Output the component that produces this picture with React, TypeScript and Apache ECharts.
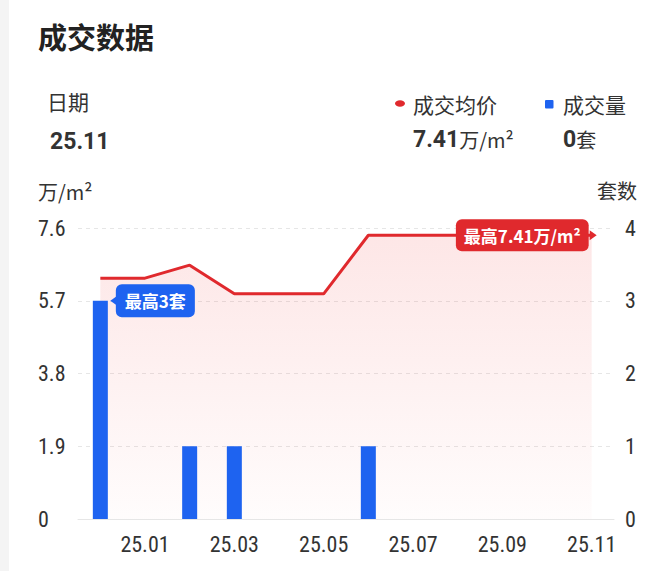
import React, { useEffect, useRef } from "react";
import * as echarts from "echarts";

const categories = ["24.12", "25.01", "25.02", "25.03", "25.04", "25.05", "25.06", "25.07", "25.08", "25.09", "25.10", "25.11"];
const priceValues = [6.29, 6.29, 6.63, 5.88, 5.88, 5.88, 7.41, 7.41, 7.41, 7.41, 7.41, 7.41];
const volumeValues = [3, 0, 1, 1, 0, 0, 1, 0, 0, 0, 0, 0];
const priceTicks = { min: 0, max: 7.6, interval: 1.9 };
const volumeTicks = { min: 0, max: 4, interval: 1 };

const title = "成交数据";
const dateLabel = "日期";
const dateValue = "25.11";
const priceName = "成交均价";
const volumeName = "成交量";
const priceCurrent = "7.41";
const volumeCurrent = "0";
const leftUnit = "万/m²";
const rightUnit = "套数";
const maxVolumeLabel = "最高3套";
const maxPriceLabel = "最高7.41万/m²";

const RED = "#e0292d";
const BLUE = "#1e63f0";
const CJK = "'Noto Sans CJK SC', 'Noto Sans', sans-serif";
const NUM = "Roboto, 'Noto Sans CJK SC', sans-serif";
const AXIS = "'Liberation Sans Narrow', 'Roboto Condensed', 'Arial Narrow', Roboto, sans-serif";

export default function App() {
  const ref = useRef<HTMLDivElement>(null);
  useEffect(() => {
    if (!ref.current) return;
    const chart = echarts.init(ref.current, null, { renderer: "svg" });
    const lastIdx = priceValues.length - 1;
    const option: any = {
      animation: false,
      backgroundColor: "#ffffff",
      grid: { left: 78, right: 55, top: 228, bottom: 52, containLabel: false },
      xAxis: {
        type: "category",
        data: categories,
        boundaryGap: true,
        axisLine: { show: true, lineStyle: { color: "#e6e6e6", width: 1 } },
        axisTick: { show: false },
        axisLabel: {
          interval: (i: number) => i % 2 === 1,
          margin: 14,
          color: "#333333",
          fontSize: 22,
          fontFamily: AXIS,
        },
      },
      yAxis: [
        {
          type: "value",
          min: priceTicks.min,
          max: priceTicks.max,
          interval: priceTicks.interval,
          position: "left",
          axisLine: { show: false },
          axisTick: { show: false },
          axisLabel: {
            align: "left",
            margin: 40,
            color: "#333333",
            fontSize: 22,
            fontFamily: AXIS,
            formatter: (v: number) => (v === 0 ? "0" : v.toFixed(1)),
          },
          splitLine: { show: true, lineStyle: { color: "#e6e6e6", type: [4, 4], width: 1 } },
        },
        {
          type: "value",
          min: volumeTicks.min,
          max: volumeTicks.max,
          interval: volumeTicks.interval,
          position: "right",
          axisLine: { show: false },
          axisTick: { show: false },
          axisLabel: { margin: 11, color: "#333333", fontSize: 22, fontFamily: AXIS },
          splitLine: { show: false },
        },
      ],
      series: [
        {
          type: "bar",
          name: volumeName,
          yAxisIndex: 1,
          barWidth: 15,
          itemStyle: { color: BLUE },
          data: volumeValues.map((v, i) =>
            i === 0
              ? {
                  value: v,
                  label: {
                    show: true,
                    position: ["100%", 0],
                    align: "left",
                    verticalAlign: "middle",
                    offset: [8, 0],
                    formatter: maxVolumeLabel,
                    color: "#ffffff",
                    fontSize: 17,
                    fontWeight: "bold",
                    fontFamily: CJK,
                    lineHeight: 17,
                    backgroundColor: BLUE,
                    borderRadius: 6,
                    padding: [8, 9],
                  },
                }
              : v
          ),
          markPoint: {
            silent: true,
            symbol: "triangle",
            symbolSize: [10, 7],
            symbolRotate: 90,
            symbolOffset: [13.5, 0],
            itemStyle: { color: BLUE },
            label: { show: false },
            data: [{ coord: [categories[0], volumeValues[0]] }],
          },
          z: 3,
        },
        {
          type: "line",
          name: priceName,
          yAxisIndex: 0,
          showSymbol: false,
          symbol: "none",
          smooth: false,
          lineStyle: { color: RED, width: 3 },
          itemStyle: { color: RED },
          areaStyle: {
            color: new echarts.graphic.LinearGradient(0, 0, 0, 1, [
              { offset: 0, color: "rgba(240,60,60,0.18)" },
              { offset: 1, color: "rgba(240,60,60,0.02)" },
            ]),
          },
          data: priceValues,
          markPoint: {
            silent: true,
            itemStyle: { color: RED },
            data: [
              {
                coord: [categories[lastIdx], priceValues[lastIdx]],
                symbol: "triangle",
                symbolSize: [10, 7],
                symbolRotate: -90,
                symbolOffset: [1.5, 0],
                label: { show: false },
              },
              {
                coord: [categories[lastIdx], priceValues[lastIdx]],
                symbol: "circle",
                symbolSize: 0,
                label: {
                  show: true,
                  position: "left",
                  distance: 3,
                  formatter: maxPriceLabel,
                  color: "#ffffff",
                  fontSize: 17,
                  fontWeight: "bold",
                  fontFamily: CJK,
                  lineHeight: 16,
                  backgroundColor: RED,
                  borderRadius: 6,
                  padding: [8, 8],
                },
              },
            ],
          },
          z: 2,
        },
      ],
      graphic: [
        { type: "rect", left: 0, top: 0, shape: { width: 9, height: 571 }, style: { fill: "#f4f4f4" }, silent: true },
        {
          type: "text",
          x: 38,
          y: 36,
          style: { text: title, fontSize: 29, fontWeight: "bold", fontFamily: CJK, fill: "#222222", textVerticalAlign: "middle" },
        },
        {
          type: "text",
          x: 47,
          y: 101,
          style: { text: dateLabel, fontSize: 21, fontFamily: CJK, fill: "#333333", textVerticalAlign: "middle" },
        },
        {
          type: "text",
          x: 50,
          y: 141,
          style: { text: dateValue, fontSize: 23, fontWeight: "bold", fontFamily: NUM, fill: "#333333", textVerticalAlign: "middle" },
        },
        { type: "ellipse", shape: { cx: 400, cy: 103.5, rx: 5, ry: 3.2 }, style: { fill: RED } },
        {
          type: "text",
          x: 413,
          y: 103.5,
          style: { text: priceName, fontSize: 21, fontFamily: CJK, fill: "#333333", textVerticalAlign: "middle" },
        },
        { type: "rect", shape: { x: 545, y: 100, width: 8.5, height: 8.5, r: 1 }, style: { fill: BLUE } },
        {
          type: "text",
          x: 563,
          y: 103.5,
          style: { text: volumeName, fontSize: 21, fontFamily: CJK, fill: "#333333", textVerticalAlign: "middle" },
        },
        {
          type: "text",
          x: 413,
          y: 139.5,
          style: {
            text: "{n|" + priceCurrent + "}{u|万/m²}",
            textVerticalAlign: "middle",
            rich: {
              n: { fontSize: 23, fontWeight: "bold", fontFamily: NUM, fill: "#333333", color: "#333333" },
              u: { fontSize: 20, fontFamily: CJK, fill: "#333333", color: "#333333" },
            },
          },
        },
        {
          type: "text",
          x: 563,
          y: 139.5,
          style: {
            text: "{n|" + volumeCurrent + "}{u|套}",
            textVerticalAlign: "middle",
            rich: {
              n: { fontSize: 23, fontWeight: "bold", fontFamily: NUM, fill: "#333333", color: "#333333" },
              u: { fontSize: 20, fontFamily: CJK, fill: "#333333", color: "#333333" },
            },
          },
        },
        {
          type: "text",
          x: 38,
          y: 191.5,
          style: { text: leftUnit, fontSize: 20, fontFamily: CJK, fill: "#333333", textVerticalAlign: "middle" },
        },
        {
          type: "text",
          x: 637,
          y: 190,
          style: { text: rightUnit, fontSize: 20, fontFamily: CJK, fill: "#333333", textAlign: "right", textVerticalAlign: "middle" },
        },
      ],
    };
    chart.setOption(option);
    return () => chart.dispose();
  }, []);
  return <div ref={ref} style={{ position: "absolute", left: 0, top: 0, width: 669, height: 571 }} />;
}
